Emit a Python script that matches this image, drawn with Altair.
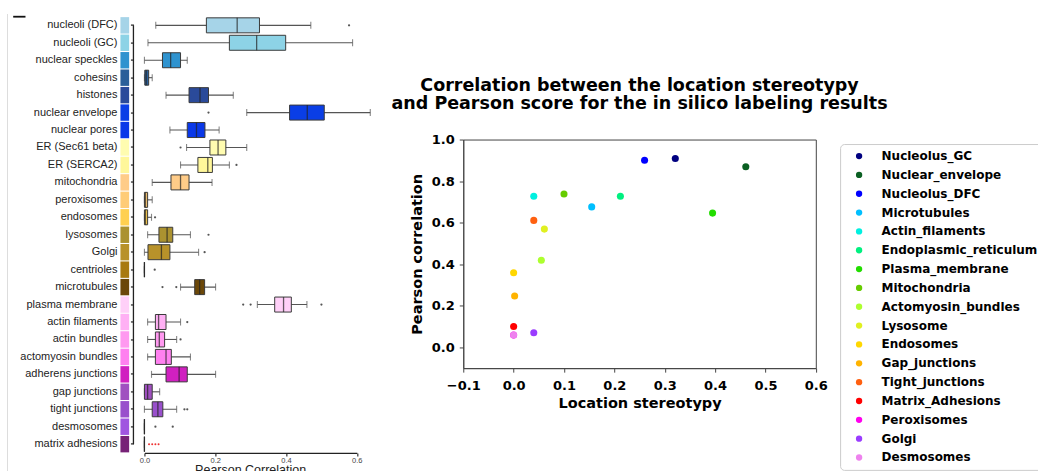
import altair as alt
import pandas as pd

# ---------------- left panel: Pearson correlation per structure ----------------
STRUCTURES = [
    "nucleoli (DFC)", "nucleoli (GC)", "nuclear speckles", "cohesins", "histones",
    "nuclear envelope", "nuclear pores", "ER (Sec61 beta)", "ER (SERCA2)",
    "mitochondria", "peroxisomes", "endosomes", "lysosomes", "Golgi", "centrioles",
    "microtubules", "plasma membrane", "actin filaments", "actin bundles",
    "actomyosin bundles", "adherens junctions", "gap junctions", "tight junctions",
    "desmosomes", "matrix adhesions",
]
STRUCT_COLORS = [
    "#a6d4e8", "#8dd3e6", "#2f93cf", "#2a5f99", "#2a4a9a",
    "#0a3ee6", "#0a38e8", "#fffcb0", "#fff79a",
    "#ffcc88", "#ffcc77", "#ffd050", "#ab9230", "#b8922a", "#a87a10",
    "#6b4708", "#ffd0f8", "#ffb0f4", "#ff99f0",
    "#ff80f0", "#d020c0", "#a050c0", "#9950cc",
    "#a055e0", "#772277",
]
WHISK_LO = [0.032, 0.010, 0.000, 0.000, 0.061, 0.289, 0.072, 0.119, 0.102, 0.022,
            0.000, 0.000, 0.009, 0.000, 0.000, 0.102, 0.319, 0.009, 0.009, 0.009,
            0.020, 0.000, 0.000, 0.000, 0.000]
Q1 = [0.175, 0.240, 0.051, 0.001, 0.126, 0.410, 0.121, 0.185, 0.151, 0.075,
      0.000, 0.000, 0.041, 0.010, 0.000, 0.142, 0.368, 0.031, 0.031, 0.031,
      0.061, 0.000, 0.022, 0.000, 0.000]
MEDIAN = [0.262, 0.317, 0.074, 0.005, 0.157, 0.460, 0.147, 0.208, 0.179, 0.102,
          0.003, 0.003, 0.064, 0.048, 0.000, 0.156, 0.393, 0.040, 0.042, 0.061,
          0.098, 0.009, 0.038, 0.000, 0.000]
Q3 = [0.325, 0.399, 0.102, 0.012, 0.181, 0.508, 0.171, 0.230, 0.192, 0.126,
      0.009, 0.009, 0.080, 0.072, 0.000, 0.170, 0.415, 0.061, 0.057, 0.076,
      0.121, 0.022, 0.052, 0.000, 0.000]
WHISK_HI = [0.470, 0.588, 0.121, 0.022, 0.251, 0.638, 0.211, 0.289, 0.240, 0.191,
            0.022, 0.020, 0.130, 0.153, 0.000, 0.201, 0.459, 0.102, 0.091, 0.130,
            0.201, 0.043, 0.091, 0.000, 0.000]

FLIER_STRUCT = ["nucleoli (DFC)", "nuclear envelope", "ER (Sec61 beta)", "ER (SERCA2)",
                "endosomes", "lysosomes", "Golgi", "centrioles", "microtubules",
                "microtubules", "plasma membrane", "plasma membrane", "plasma membrane",
                "actin filaments", "actin bundles", "tight junctions", "tight junctions",
                "desmosomes", "desmosomes"]
FLIER_VALUE = [0.578, 0.181, 0.102, 0.260, 0.030, 0.181, 0.170, 0.029, 0.051, 0.090,
               0.279, 0.300, 0.500, 0.121, 0.102, 0.113, 0.121, 0.031, 0.080]

MATRIX_DOTS = [0.013, 0.022, 0.031, 0.040]
LEFT_XLABEL = "Pearson Correlation"

# ---------------- right panel: stereotypy vs Pearson ----------------
LOCATIONS = [
    "Nucleolus_GC", "Nuclear_envelope", "Nucleolus_DFC", "Microtubules",
    "Actin_filaments", "Endoplasmic_reticulum", "Plasma_membrane", "Mitochondria",
    "Actomyosin_bundles", "Lysosome", "Endosomes", "Gap_junctions",
    "Tight_junctions", "Matrix_Adhesions", "Peroxisomes", "Golgi", "Desmosomes",
]
STEREOTYPY = [0.321, 0.461, 0.260, 0.155, 0.040, 0.212, 0.395, 0.100,
              0.055, 0.061, 0.000, 0.002, 0.040, 0.000, 0.000, 0.040, 0.000]
PEARSON = [0.909, 0.869, 0.900, 0.676, 0.727, 0.727, 0.646, 0.738,
           0.419, 0.569, 0.359, 0.247, 0.611, 0.100, 0.059, 0.070, 0.059]
LOC_COLORS = [
    "#000080", "#0a5f22", "#0000ff", "#00bfff", "#00f0e0", "#00f080", "#22dd00",
    "#66cc00", "#adff2f", "#e0f020", "#ffd700", "#ffb300", "#ff6010", "#ff0000",
    "#ff00ee", "#9a3cff", "#ee82ee",
]
TITLE_LINES = ["Correlation between the location stereotypy",
               "and Pearson score for the in silico labeling results"]

# ---------------- layout constants ----------------
LW, LH = 212.5, 436.5            # left plot area
STEP = LH / len(STRUCTURES)
SW, SH = 352.7, 228.7            # scatter plot area

box_df = pd.DataFrame({
    "structure": STRUCTURES, "color": STRUCT_COLORS,
    "lo": WHISK_LO, "q1": Q1, "med": MEDIAN, "q3": Q3, "hi": WHISK_HI,
})
cap_df = pd.DataFrame({
    "structure": STRUCTURES * 2,
    "v": WHISK_LO + WHISK_HI,
})
flier_df = pd.DataFrame({"structure": FLIER_STRUCT, "v": FLIER_VALUE})
matrix_df = pd.DataFrame({"structure": ["matrix adhesions"] * len(MATRIX_DOTS), "v": MATRIX_DOTS})
one = pd.DataFrame({"d": [0]})

y_enc = alt.Y(
    "structure:N", sort=STRUCTURES,
    scale=alt.Scale(domain=STRUCTURES, paddingInner=0.06, paddingOuter=0.03),
    axis=alt.Axis(title=None, labelFont="Liberation Sans", labelFontSize=11,
                  labelColor="#222222", domain=False, ticks=True, tickSize=3,
                  tickColor="#222222", tickWidth=1.2, labelPadding=13.5,
                  offset=11, grid=False),
)
x_scale = alt.Scale(domain=[0, 0.6], nice=False)
x_axis = alt.Axis(values=[0, 0.1, 0.2, 0.3, 0.4, 0.5, 0.6], format=".1f",
                  labelFont="Liberation Sans", labelFontSize=7.5, labelColor="#444444",
                  labelPadding=0.5, tickSize=3, tickColor="#222222", tickWidth=1.1,
                  domainColor="#222222", domainWidth=1.2, grid=False,
                  labelFlush=False, labelOverlap=False, title=None)

strip = alt.Chart(box_df).mark_rect().encode(
    y=y_enc, x=alt.value(-24), x2=alt.value(-15.3),
    color=alt.Color("color:N", scale=None),
)
whisk = alt.Chart(box_df).mark_rule(color="#555555", strokeWidth=1.1).encode(
    y=y_enc, x=alt.X("lo:Q", scale=x_scale, axis=x_axis), x2="hi:Q",
)
caps = alt.Chart(cap_df).mark_tick(color="#555555", thickness=1.1, size=7).encode(
    y=y_enc, x=alt.X("v:Q", scale=x_scale),
)
boxes = alt.Chart(box_df).mark_bar(size=15, stroke="#3a3a3a", strokeWidth=1).encode(
    y=y_enc, x=alt.X("q1:Q", scale=x_scale), x2="q3:Q",
    color=alt.Color("color:N", scale=None),
)
medians = alt.Chart(box_df).mark_tick(color="#222222", thickness=1.3, size=15).encode(
    y=y_enc, x=alt.X("med:Q", scale=x_scale),
)
fliers = alt.Chart(flier_df).mark_circle(size=5, color="#555555", opacity=1).encode(
    y=y_enc, x=alt.X("v:Q", scale=x_scale),
)
matrix_dots = alt.Chart(matrix_df).mark_circle(size=4, color="#ee3333", opacity=1).encode(
    y=y_enc, x=alt.X("v:Q", scale=x_scale),
)
# x-axis caption, partly cut by the lower edge of the figure
x_caption = alt.Chart(pd.DataFrame({"t": [LEFT_XLABEL]})).mark_text(
    font="Liberation Sans", fontSize=12.5, color="#222222", align="center", baseline="top",
).encode(text="t:N", x=alt.value(LW / 2), y=alt.value(447.9))
# trimmed left spine, running from the first to the last category tick
spine = alt.Chart(one).mark_rule(color="#222222", strokeWidth=1.3).encode(
    x=alt.value(-11), y=alt.value(STEP / 2), y2=alt.value(LH - STEP / 2),
)
# thin panel border and corner mark on the far left
border = alt.Chart(one).mark_rule(color="#dddddd", strokeWidth=1).encode(
    x=alt.value(-137), y=alt.value(-2.6), y2=alt.value(455),
)
corner = alt.Chart(one).mark_rule(color="#111111", strokeWidth=1.8).encode(
    x=alt.value(-131.3), x2=alt.value(-119), y=alt.value(0.1),
)
left_edge = alt.Chart(one).mark_rule(color="white").encode(
    x=alt.value(237.5), y=alt.value(0), y2=alt.value(1),
)

left = alt.layer(
    strip, whisk, caps, boxes, medians, fliers, matrix_dots, x_caption,
    spine, border, corner, left_edge,
).properties(width=LW, height=LH)

# ---------------- scatter ----------------
scatter_df = pd.DataFrame({"location": LOCATIONS, "stereotypy": STEREOTYPY, "pearson": PEARSON})
bold = dict(labelFont="DejaVu Sans", labelFontWeight="bold", labelFontSize=13,
            labelColor="black", tickSize=4, tickColor="#444444", tickWidth=1,
            domainColor="#444444", domainWidth=1, grid=False,
            labelFlush=False, labelOverlap=False, format=".1f",
            titleFont="DejaVu Sans", titleFontWeight="bold", titleFontSize=14.5,
            titleColor="black")

points = alt.Chart(scatter_df).mark_circle(size=50, opacity=1).encode(
    x=alt.X("stereotypy:Q", scale=alt.Scale(domain=[-0.1, 0.6], nice=False, zero=False),
            axis=alt.Axis(values=[-0.1, 0, 0.1, 0.2, 0.3, 0.4, 0.5, 0.6],
                          title="Location stereotypy", labelPadding=7, titlePadding=4, **bold)),
    y=alt.Y("pearson:Q", scale=alt.Scale(domain=[-0.1, 1.0], nice=False, zero=False),
            axis=alt.Axis(values=[0, 0.2, 0.4, 0.6, 0.8, 1.0],
                          title="Pearson correlation", labelPadding=5, titlePadding=7, **bold)),
    color=alt.Color(
        "location:N",
        scale=alt.Scale(domain=LOCATIONS, range=LOC_COLORS),
        legend=alt.Legend(
            title=None, orient="none", legendX=377, legendY=4.5,
            labelFont="DejaVu Sans", labelFontWeight="bold", labelFontSize=12,
            labelColor="black", labelLimit=400, symbolType="circle", symbolSize=40,
            symbolStrokeWidth=0, padding=6, symbolOffset=7, labelOffset=16.5,
            rowPadding=6.85, strokeColor="#cccccc", cornerRadius=4, fillColor="white",
        ),
    ),
)
title = alt.Chart(one).mark_text(
    font="DejaVu Sans", fontWeight="bold", fontSize=17.5, color="black",
    align="center", baseline="alphabetic", lineHeight=17.6,
).encode(text=alt.value(TITLE_LINES), x=alt.value(SW / 2), y=alt.value(-48.5))
edge_top = alt.Chart(one).mark_rule(color="white").encode(
    x=alt.value(0), x2=alt.value(1), y=alt.value(-121),
)
edge_left = alt.Chart(one).mark_rule(color="white").encode(
    x=alt.value(-80), y=alt.value(0), y2=alt.value(1),
)

scatter = alt.layer(points, title, edge_top, edge_left).properties(
    width=SW, height=SH,
    view=alt.ViewBackground(stroke="#444444", strokeWidth=1),
)

spacer = alt.Chart(one).mark_rule(color="white").encode(
    x=alt.value(0), y=alt.value(0), y2=alt.value(0.5),
).properties(width=1, height=1)

right = alt.vconcat(spacer, scatter, spacing=0).resolve_scale(color="independent")

chart = alt.hconcat(left, right, spacing=0).resolve_scale(color="independent").properties(
    padding={"left": 6.5, "top": 12.5, "right": -7, "bottom": -4},
    background="white",
).configure_view(stroke=None)

chart.save("out.html", embed_options={"renderer": "svg", "actions": False})
